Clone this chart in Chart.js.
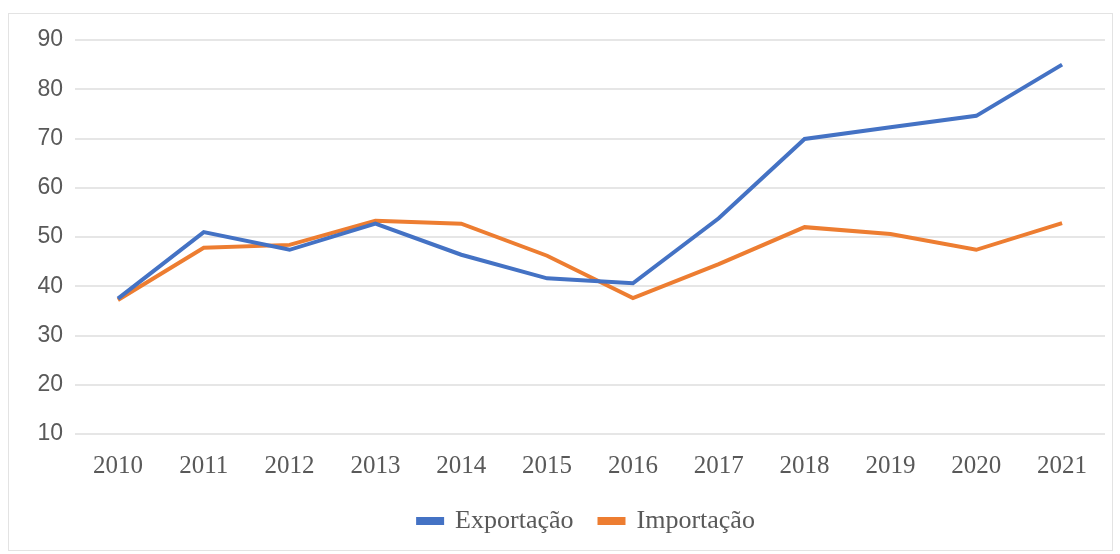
<!DOCTYPE html>
<html>
<head>
<meta charset="utf-8">
<script src="https://cdn.jsdelivr.net/npm/chart.js@4/dist/chart.umd.min.js"></script>
<style>
  body { margin: 0; background: #fff; }
  #wrap { position: relative; width: 1120px; height: 554px; }
  #frame { position: absolute; left: 8px; top: 13px; width: 1105px; height: 538px; border: 1px solid #e3e3e3; box-sizing: border-box; }
  canvas { position: absolute; left: 0; top: 0; }
</style>
</head>
<body>
<div id="wrap">
  <div id="frame"></div>
  <canvas id="myChart" width="1120" height="554"></canvas>
</div>
<script>
// Dados do gráfico
const anos = ['2010', '2011', '2012', '2013', '2014', '2015', '2016', '2017', '2018', '2019', '2020', '2021'];
const exportacao = [37.5, 51.0, 47.4, 52.7, 46.4, 41.6, 40.6, 53.8, 69.9, 72.3, 74.6, 85.0];
const importacao = [37.2, 47.8, 48.4, 53.3, 52.7, 46.2, 37.6, 44.5, 52.0, 50.6, 47.4, 52.8];

const ctx = document.getElementById('myChart').getContext('2d');
const cinza = '#595959';

// centra a legenda sob a área do gráfico (e não sob o canvas inteiro)
const legendaCentrada = {
    id: 'legendaCentrada',
    beforeDraw(chart) {
        if (chart.legend) chart.legend.left = 68;
    }
};

new Chart(ctx, {
    type: 'line',
    data: {
        labels: anos,
        datasets: [
            {
                label: 'Exportação',
                data: exportacao,
                borderColor: '#4472C4',
                backgroundColor: '#4472C4',
                borderWidth: 4,
                pointRadius: 0,
                tension: 0,
                fill: false,
            },
            {
                label: 'Importação',
                data: importacao,
                borderColor: '#ED7D31',
                backgroundColor: '#ED7D31',
                borderWidth: 4,
                pointRadius: 0,
                tension: 0,
                fill: false,
            }
        ]
    },
    plugins: [legendaCentrada],
    options: {
        responsive: false,
        animation: false,
        layout: { padding: { left: 0, right: 15, top: 40, bottom: 10 } },
        plugins: {
            legend: {
                position: 'bottom',
                labels: {
                    color: cinza,
                    font: { family: 'Liberation Serif', size: 26 },
                    boxWidth: 24,
                    boxHeight: 4,
                    padding: 26,
                },
            },
            tooltip: { enabled: false },
        },
        scales: {
            x: {
                offset: true,
                grid: { display: false, drawTicks: false },
                border: { display: false },
                ticks: {
                    color: cinza,
                    padding: 17,
                    maxRotation: 0,
                    font: { family: 'Liberation Serif', size: 25 },
                },
                afterFit: function(scale) { scale.height = 48; },
            },
            y: {
                min: 10,
                max: 90,
                grid: { color: '#e6e6e6', lineWidth: 2, drawTicks: false },
                border: { display: false },
                ticks: {
                    stepSize: 10,
                    color: cinza,
                    padding: 12,
                    font: { family: 'Liberation Sans', size: 23 },
                },
                afterFit: function(scale) { scale.width = 75; },
            },
        },
    },
});
</script>
</body>
</html>
